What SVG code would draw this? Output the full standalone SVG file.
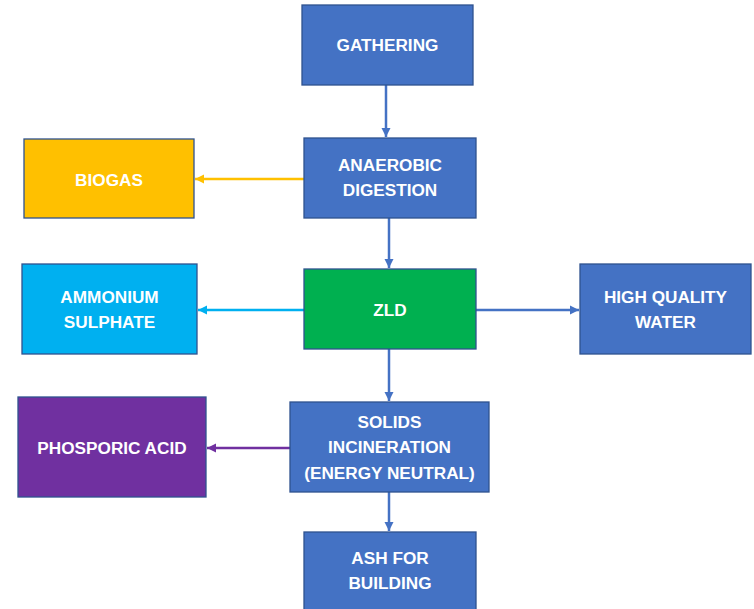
<svg xmlns="http://www.w3.org/2000/svg" width="754" height="609" viewBox="0 0 754 609">
<style>
.box{stroke:#2F528F;stroke-width:1.3}
.blue{fill:#4472C4}
.t{font-family:"Liberation Sans",Arial,sans-serif;font-weight:bold;font-size:17.2px;fill:#FFFFFF;text-anchor:middle}
.c{fill:none;stroke-width:2.5}
</style>
<defs>
<marker id="mb" markerUnits="userSpaceOnUse" markerWidth="10" markerHeight="10" viewBox="0 0 10 10" refX="9" refY="5" orient="auto"><path d="M0,0.5 L9,5 L0,9.5 z" fill="#4472C4"/></marker>
<marker id="my" markerUnits="userSpaceOnUse" markerWidth="10" markerHeight="10" viewBox="0 0 10 10" refX="9" refY="5" orient="auto"><path d="M0,0.5 L9,5 L0,9.5 z" fill="#FFC000"/></marker>
<marker id="mc" markerUnits="userSpaceOnUse" markerWidth="10" markerHeight="10" viewBox="0 0 10 10" refX="9" refY="5" orient="auto"><path d="M0,0.5 L9,5 L0,9.5 z" fill="#00B0F0"/></marker>
<marker id="mp" markerUnits="userSpaceOnUse" markerWidth="10" markerHeight="10" viewBox="0 0 10 10" refX="9" refY="5" orient="auto"><path d="M0,0.5 L9,5 L0,9.5 z" fill="#7030A0"/></marker>
</defs>
<rect width="754" height="609" fill="#FFFFFF"/>
<g id="connectors">
<line class="c" x1="386" y1="85" x2="386" y2="137" stroke="#4472C4" marker-end="url(#mb)"/>
<line class="c" x1="304" y1="179" x2="195" y2="179" stroke="#FFC000" marker-end="url(#my)"/>
<line class="c" x1="389" y1="218" x2="389" y2="268" stroke="#4472C4" marker-end="url(#mb)"/>
<line class="c" x1="304" y1="310" x2="198" y2="310" stroke="#00B0F0" marker-end="url(#mc)"/>
<line class="c" x1="476" y1="310" x2="579" y2="310" stroke="#4472C4" marker-end="url(#mb)"/>
<line class="c" x1="389" y1="349" x2="389" y2="401" stroke="#4472C4" marker-end="url(#mb)"/>
<line class="c" x1="290" y1="448" x2="207" y2="448" stroke="#7030A0" marker-end="url(#mp)"/>
<line class="c" x1="389" y1="492" x2="389" y2="531" stroke="#4472C4" marker-end="url(#mb)"/>
</g>
<g id="gathering">
<rect class="box blue" x="302" y="5" width="171" height="80"/>
<text class="t" x="387.5" y="51">GATHERING</text>
</g>
<g id="anaerobic">
<rect class="box blue" x="304" y="138" width="172" height="80"/>
<text class="t" x="390" y="171">ANAEROBIC</text>
<text class="t" x="390" y="196">DIGESTION</text>
</g>
<g id="biogas">
<rect class="box" fill="#FFC000" x="24" y="139" width="170" height="79"/>
<text class="t" x="109" y="186">BIOGAS</text>
</g>
<g id="zld">
<rect class="box" fill="#00B050" x="304" y="269" width="172" height="80"/>
<text class="t" x="390" y="316">ZLD</text>
</g>
<g id="ammonium">
<rect class="box" fill="#00B0F0" x="22" y="264" width="175" height="90"/>
<text class="t" x="109.5" y="303">AMMONIUM</text>
<text class="t" x="109.5" y="328">SULPHATE</text>
</g>
<g id="water">
<rect class="box blue" x="580" y="264" width="171" height="90"/>
<text class="t" x="665.5" y="303">HIGH QUALITY</text>
<text class="t" x="665.5" y="328">WATER</text>
</g>
<g id="phosporic">
<rect class="box" fill="#7030A0" x="18" y="397" width="188" height="100"/>
<text class="t" x="112" y="454">PHOSPORIC ACID</text>
</g>
<g id="solids">
<rect class="box blue" x="290" y="402" width="199" height="90"/>
<text class="t" x="389.5" y="428">SOLIDS</text>
<text class="t" x="389.5" y="453">INCINERATION</text>
<text class="t" x="389.5" y="479">(ENERGY NEUTRAL)</text>
</g>
<g id="ash">
<rect class="box blue" x="304" y="532" width="172" height="82"/>
<text class="t" x="390" y="564">ASH FOR</text>
<text class="t" x="390" y="589">BUILDING</text>
</g>
</svg>
